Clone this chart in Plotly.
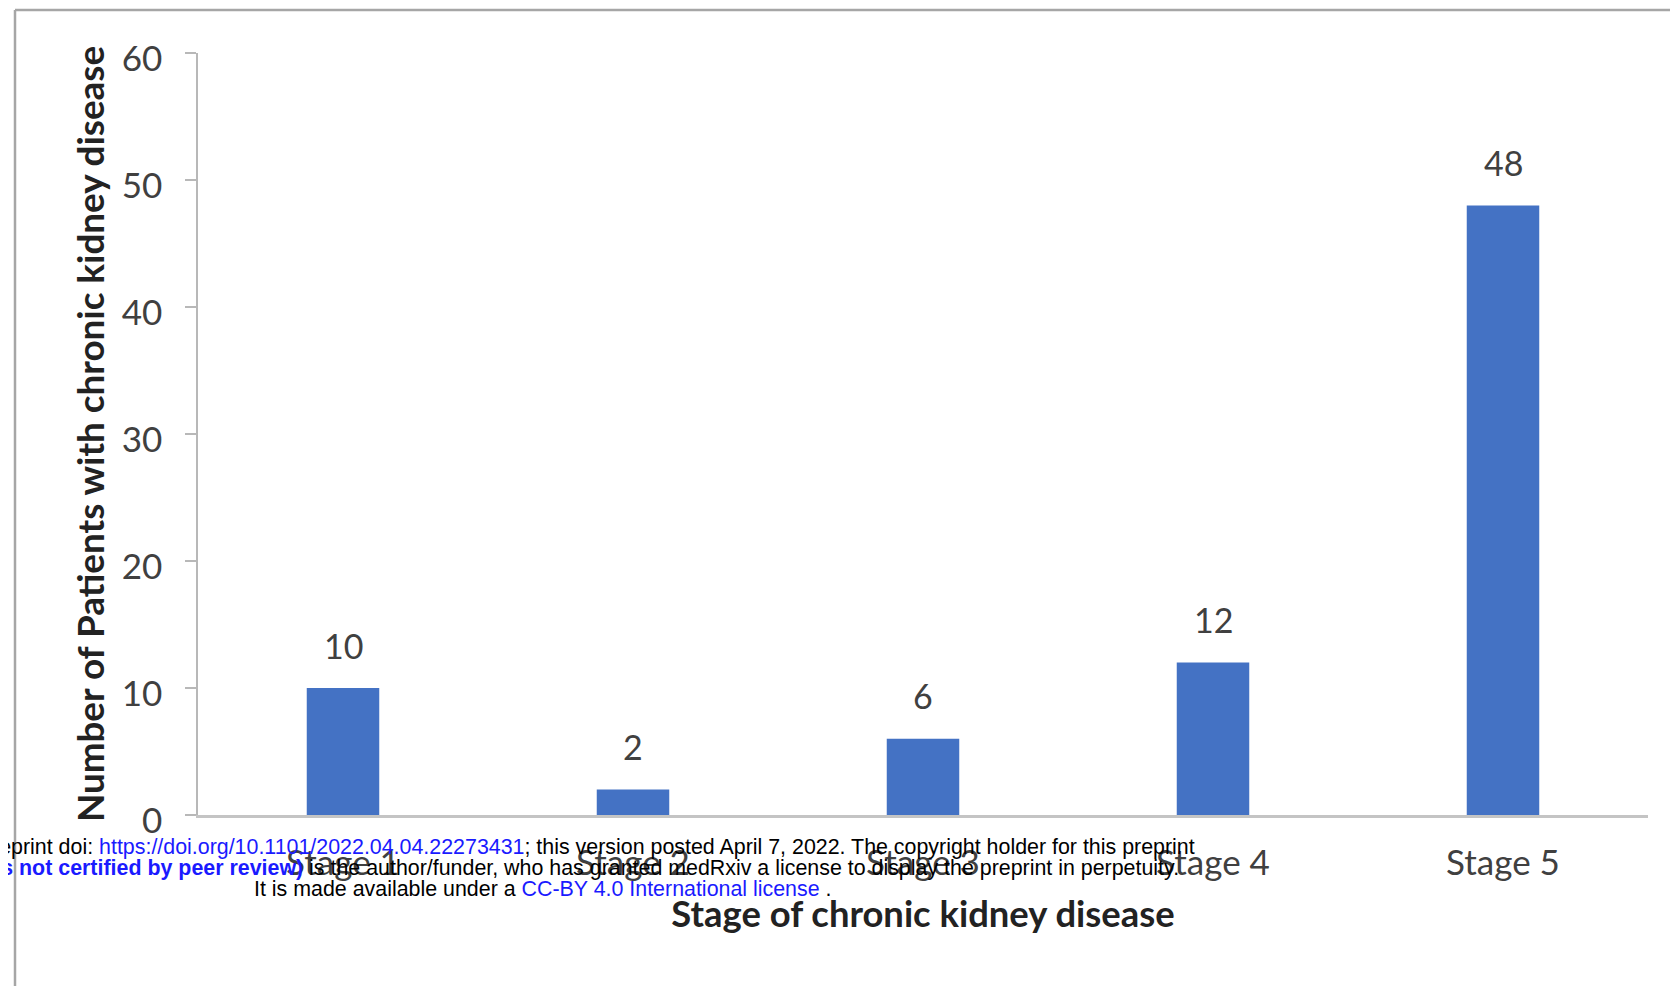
import plotly.graph_objects as go

stages = ["Stage 1", "Stage 2", "Stage 3", "Stage 4", "Stage 5"]
patients = [10, 2, 6, 12, 48]
y_ticks = [0, 10, 20, 30, 40, 50, 60]

OFF = 8  # page body margin
W, H = 1678 - OFF, 987 - OFF
L, R, T, B = 198 - OFF, 30, 53 - OFF, 172
pw, ph = W - L - R, H - T - B

def px(x):
    return (x - OFF - L) / pw

def py(y):
    return (H - B - (y - OFF)) / ph

FONT = "Lato, 'Open Sans', sans-serif"
GREY = "#404040"

fig = go.Figure(go.Bar(
    x=stages, y=patients, width=0.25,
    marker=dict(color="#4472C4", line=dict(width=0)),
))

annotations = []
for s, v in zip(stages, patients):
    annotations.append(dict(x=s, y=v, xref="x", yref="y", text=str(v), showarrow=False,
                            yshift=43, font=dict(family=FONT, size=34, color=GREY)))

blue = "#1a1aff"
wm_font = dict(family="Liberation Sans, Arial, sans-serif", size=21.4, color="#000000")
line1 = ("medRxiv preprint doi: <span style='color:%s'>https://doi.org/10.1101/2022.04.04.22273431</span>; "
         "this version posted April 7, 2022. The copyright holder for this preprint" % blue)
line2 = ("<b><span style='color:%s'>(which was not certified by peer review)</span></b> is the author/funder, "
         "who has granted medRxiv a license to display the preprint in perpetuity." % blue)
line3 = "It is made available under a <span style='color:%s'>CC-BY 4.0 International license</span> ." % blue
for txt, xr, yc in [(line1, 1197, 847), (line2, 1181, 868), (line3, 834, 889)]:
    annotations.append(dict(x=px(xr), y=py(yc), xref="paper", yref="paper", text=txt,
                            showarrow=False, xanchor="right", yanchor="middle", font=wm_font))

fig.update_layout(
    width=W, height=H,
    margin=dict(l=L, r=R, t=T, b=B),
    paper_bgcolor="white", plot_bgcolor="white",
    showlegend=False,
    bargap=0.75,
    annotations=annotations,
    shapes=[
        dict(type="line", xref="paper", yref="paper", x0=px(15), x1=px(15), y0=py(10), y1=py(986),
             line=dict(color="#a6a6a6", width=2.5)),
        dict(type="line", xref="paper", yref="paper", x0=px(15), x1=px(1700), y0=py(10), y1=py(10),
             line=dict(color="#a6a6a6", width=2.5)),
    ],
    xaxis=dict(
        range=[-0.5, 4.5], showgrid=False, zeroline=False,
        showline=True, linecolor="#c4c4c4", linewidth=3,
        ticks="", ticklabelstandoff=15,
        tickfont=dict(family=FONT, size=35, color=GREY),
        title=dict(text="<b>Stage of chronic kidney disease</b>", standoff=21,
                   font=dict(family=FONT, size=36.4, color="#222222")),
    ),
    yaxis=dict(
        range=[0, 60], tickvals=y_ticks, showgrid=False, zeroline=False,
        showline=True, linecolor="#b8b8b8", linewidth=1.5,
        ticks="outside", ticklen=11, tickcolor="#b8b8b8", tickwidth=1.5,
        ticklabelstandoff=16, ticklabelshift=6,
        tickfont=dict(family=FONT, size=35, color=GREY),
        title=dict(text="<b>Number of Patients with chronic kidney disease</b>", standoff=6,
                   font=dict(family=FONT, size=36.8, color="#222222")),
    ),
)

fig.write_html("out.html")
